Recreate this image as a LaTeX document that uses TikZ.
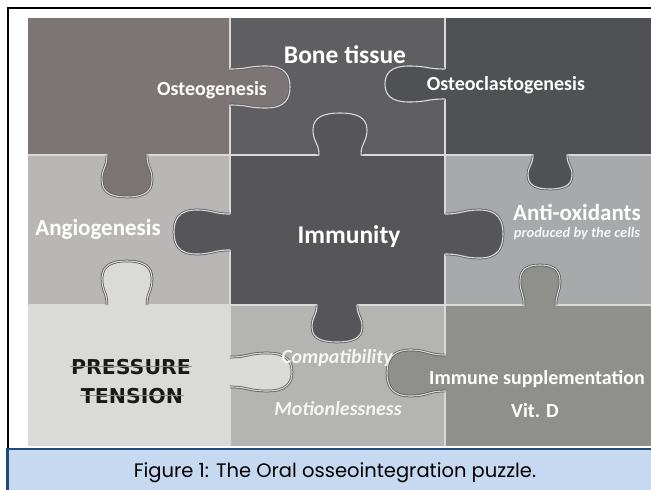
\documentclass[tikz,border=0pt]{standalone}
\usepackage{fontspec}
\setmainfont{Carlito}
\newfontfamily\captionfont{Poppins}
\newfontfamily\stampfont{DejaVu Sans}
\usepackage{tikz}
\usetikzlibrary{positioning}
\usepackage{xcolor}
\definecolor{PzOsteo}{HTML}{7B7675}
\definecolor{PzBone}{HTML}{5F5F62}
\definecolor{PzClast}{HTML}{505155}
\definecolor{PzAngio}{HTML}{B9B7B5}
\definecolor{PzImmun}{HTML}{565558}
\definecolor{PzAntiox}{HTML}{A7A9AB}
\definecolor{PzPress}{HTML}{DADAD8}
\definecolor{PzCompat}{HTML}{B4B4B2}
\definecolor{PzSupp}{HTML}{8F908C}
\definecolor{CapFill}{HTML}{C6D9F1}
\definecolor{CapEdge}{HTML}{254A7A}

\tikzset{
  knobcurve/.style n args={3}{insert path={
    .. controls (-#1,0.3*#3) and (-#2,0.3*#3) .. (-#2,0.6*#3)
    .. controls (-#2,0.92*#3) and (-0.55*#2,#3) .. (0,#3)
    .. controls (0.55*#2,#3) and (#2,0.92*#3) .. (#2,0.6*#3)
    .. controls (#2,0.3*#3) and (#1,0.3*#3) .. (#1,0)}},
  pics/knob/.style n args={4}{code={
    \fill[#4] (-#1,-3) -- (-#1,0) [knobcurve={#1}{#2}{#3}] -- (#1,-3) -- cycle;
    \draw[seam] (-#1,0) [knobcurve={#1}{#2}{#3}];
  }},
}

\begin{document}
\begin{tikzpicture}[x=1pt, y=-1pt, inner sep=0pt,
    seam/.style={draw=white!85!black, line width=1.1pt, line cap=round,
      preaction={draw=black!65, line width=2.6pt}},
    tagbig/.style={text=white, anchor=base, font=\fontsize{25.5}{28}\selectfont\bfseries},
    tagmid/.style={text=white, anchor=base, font=\fontsize{23}{26}\selectfont\bfseries},
    tag/.style={text=white, anchor=base, font=\fontsize{20}{23}\selectfont\bfseries},
    tagit/.style={text=white!96!black, anchor=base, font=\fontsize{20}{23}\selectfont\bfseries\itshape},
    stamp/.style={text=black!90, anchor=base, font=\fontsize{20.5}{24}\selectfont\stampfont\bfseries},
    strike/.style={draw=black!45, line width=0.9pt}]
  \useasboundingbox (0,0) rectangle (651,490);
  \fill[white] (0,0) rectangle (651,490);

  % pieces
  \fill[PzOsteo] (28,18) rectangle (230,155);
  \fill[PzBone] (230,18) rectangle (445,155);
  \fill[PzClast] (445,18) rectangle (651,155);
  \fill[PzAngio] (28,155) rectangle (230,305);
  \fill[PzImmun] (230,155) rectangle (445,305);
  \fill[PzAntiox] (445,155) rectangle (651,305);
  \fill[PzPress] (28,305) rectangle (230,446);
  \fill[PzCompat] (230,305) rectangle (445,446);
  \fill[PzSupp] (445,305) rectangle (651,446);

  % seams between the pieces
  \draw[seam] (230,18) -- (230,446);
  \draw[seam] (445,18) -- (445,446);
  \draw[seam] (28,155) -- (651,155);
  \draw[seam] (28,305) -- (651,305);

  % tabs
  \pic[rotate=90] at (230,87) {knob={18}{21}{60}{PzOsteo}};
  \pic[rotate=-90] at (445,84) {knob={15}{18}{60}{PzClast}};
  \pic at (127,155) {knob={20}{25}{42}{PzOsteo}};
  \pic[rotate=180] at (340,155) {knob={21}{27}{42}{PzImmun}};
  \pic at (550,155) {knob={17}{22}{34}{PzClast}};
  \pic[rotate=-90] at (230,232) {knob={18}{22}{56}{PzImmun}};
  \pic[rotate=90] at (445,234) {knob={20}{24}{58}{PzImmun}};
  \pic[rotate=180] at (127,305) {knob={20}{25}{44}{PzPress}};
  \pic at (337,305) {knob={20}{25}{37}{PzImmun}};
  \pic[rotate=180] at (540,305) {knob={16}{20}{40}{PzSupp}};
  \pic[rotate=90] at (230,372) {knob={15}{19}{62}{PzPress}};
  \pic[rotate=-90] at (445,373) {knob={18}{23}{58}{PzSupp}};

  % labels
  \node[tagbig] (bone) at (345,63) {Bone tissue};
  \node[tag] (osteo) at (212,95) {Osteogenesis};
  \node[tag] (clast) at (506,90) {Osteoclastogenesis};
  \node[tagmid] (angio) at (98,235) {Angiogenesis};
  \node[tagbig] (immun) at (349,243) {Immunity};
  \node[tagmid] (antiox) at (577,220) {Anti-oxidants};
  \node[tagit, font=\fontsize{14.5}{16}\selectfont\bfseries\itshape] (cells) at (577,237) {produced by the cells};
  \node[stamp] (press) at (131,374) {PRESSURE};
  \node[stamp] (tens) at (132,403) {TENSION};
  \draw[strike] ([xshift=-1pt]press.west) -- ([xshift=1pt]press.east);
  \draw[strike] ([xshift=-1pt]tens.west) -- ([xshift=1pt]tens.east);
  \node[tagit] (compat) at (337,363) {Compatibility};
  \node[tagit] (motion) at (338,415) {Motionlessness};
  \node[tag] (supp) at (537,384) {Immune supplementation};
  \node[tag] (vitd) at (535,417) {Vit. D};

  % frame and caption
  \draw[line width=2pt] (651,7.5) -- (7.5,7.5) -- (7.5,448);
  \fill[CapFill] (7.5,448) rectangle (651,490);
  \draw[CapEdge, line width=2.4pt] (7.5,490) -- (7.5,449) -- (651,449);
  \node[anchor=base, font=\captionfont\fontsize{19.5}{22}\selectfont] (caption) at (335,477) {Figure 1: The Oral osseointegration puzzle.};
\end{tikzpicture}
\end{document}
